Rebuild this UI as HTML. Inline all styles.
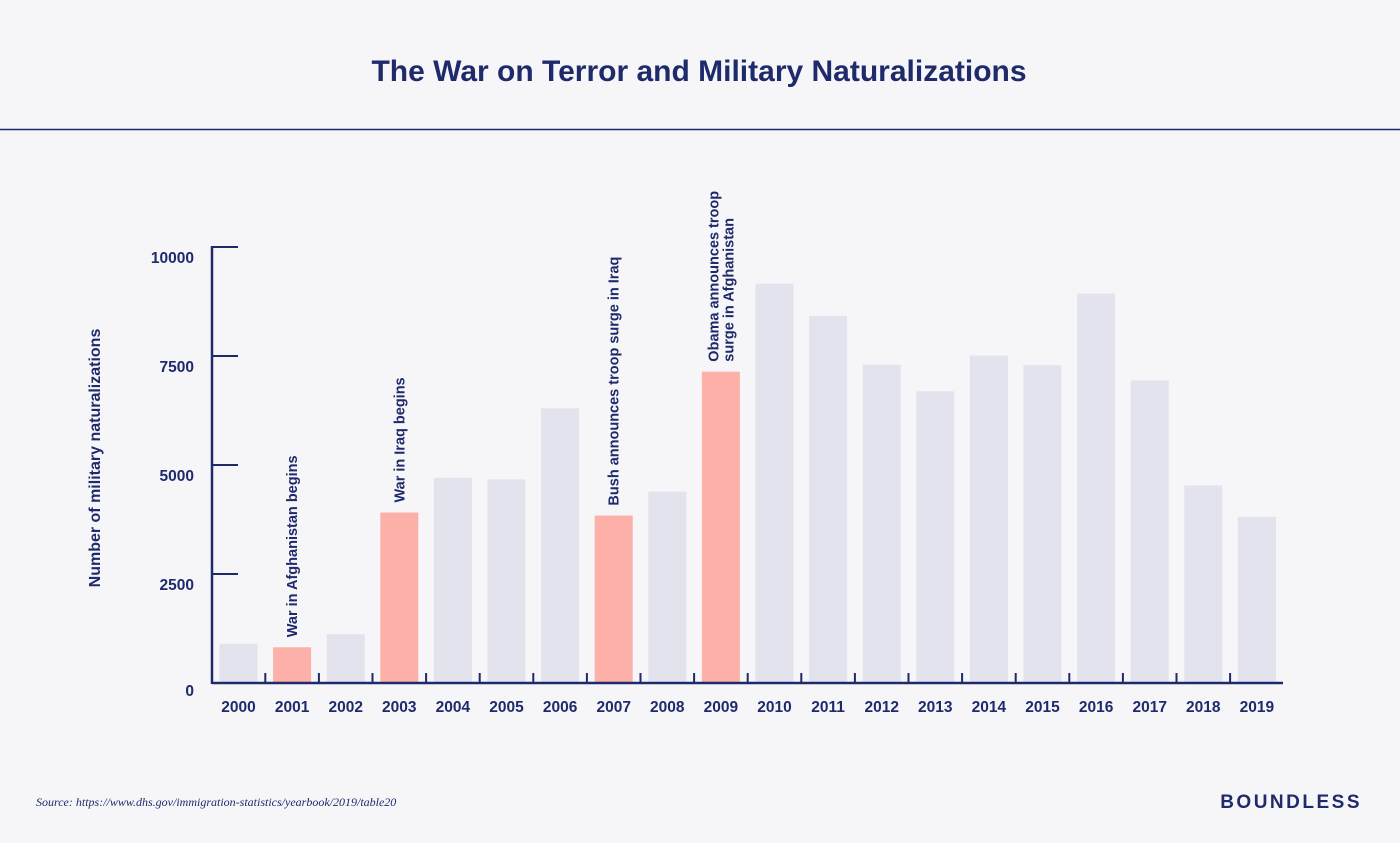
<!DOCTYPE html>
<html><head><meta charset="utf-8"><style>
body{margin:0;width:1400px;height:838px;background:#f6f6f9;font-family:"Liberation Sans",sans-serif;overflow:hidden}
</style></head><body>
<svg width="1400" height="838" xmlns="http://www.w3.org/2000/svg">
<text x="699" y="81" text-anchor="middle" font-size="30" font-weight="bold" fill="#1f2a6b">The War on Terror and Military Naturalizations</text>
<line x1="0" y1="129.5" x2="1400" y2="129.5" stroke="#1f2a6b" stroke-width="1.5"/>
<text transform="translate(100,458) rotate(-90)" text-anchor="middle" font-size="16" font-weight="bold" fill="#1f2a6b">Number of military naturalizations</text>
<g id="bars"></g><g id="axes"></g>
<text x="36" y="806" font-size="12" font-style="italic" font-family="Liberation Serif,serif" fill="#1f2a6b">Source: https://www.dhs.gov/immigration-statistics/yearbook/2019/table20</text>
<text x="1362" y="808" text-anchor="end" font-size="19" font-weight="bold" letter-spacing="2.5" fill="#1f2a6b">BOUNDLESS</text>
</svg>
<script>
const years=["2000","2001","2002","2003","2004","2005","2006","2007","2008","2009","2010","2011","2012","2013","2014","2015","2016","2017","2018","2019"];
const values=[900,820,1120,3910,4710,4670,6300,3840,4390,7140,9160,8420,7300,6690,7510,7290,8930,6940,4530,3810];
const highlighted=[false,true,false,true,false,false,false,true,false,true,false,false,false,false,false,false,false,false,false,false];
const annotations=[null,["War in Afghanistan begins"],null,["War in Iraq begins"],null,null,null,["Bush announces troop surge in Iraq"],null,["Obama announces troop","surge in Afghanistan"],null,null,null,null,null,null,null,null,null,null];
const yTicks=[0,2500,5000,7500,10000];
const NS="http://www.w3.org/2000/svg";
const x0=212,step=53.6,bw=38,yBase=683,yTop=247,yMax=10000;
const y=v=>yBase-(v/yMax)*(yBase-yTop);
const xc=i=>x0+26.5+i*step;
function mk(t,a,p){const e=document.createElementNS(NS,t);for(const k in a)e.setAttribute(k,a[k]);p.appendChild(e);return e;}
const bars=document.getElementById('bars'),axes=document.getElementById('axes');
const navy="#1f2a6b";
years.forEach((yr,i)=>{
  const r=mk('rect',{x:xc(i)-bw/2,y:y(values[i]),width:bw,height:yBase-y(values[i]),fill:highlighted[i]?"#fdb0a8":"#e3e3ee"},bars);
  
  
  const t=mk('text',{x:xc(i),y:712,'text-anchor':'middle','font-size':15.5,'font-weight':'bold',fill:navy},axes);
  t.textContent=yr;
  
  
  if(i>0){const tk=mk('line',{x1:xc(i)-step/2,x2:xc(i)-step/2,y1:yBase,y2:yBase-10,stroke:navy,'stroke-width':2},axes);
    
    }
  const an=annotations[i];
  if(an){const by=y(values[i])-10;
    an.forEach((line,j)=>{const off=(j-(an.length-1)/2)*15;
      const a=mk('text',{transform:`translate(${xc(i)+off+5},${by}) rotate(-90)`,'font-size':14.5,'font-weight':'bold',fill:navy},bars);
      a.textContent=line;
      
      });}
});
const xl=mk('line',{x1:x0,x2:1283,y1:yBase,y2:yBase,stroke:navy,'stroke-width':2.5},axes);


const yl=mk('line',{x1:x0,x2:x0,y1:yTop-1,y2:yBase+1,stroke:navy,'stroke-width':2.5},axes);


yTicks.forEach(v=>{
  if(v>0){const l=mk('line',{x1:x0,x2:x0+26,y1:y(v),y2:y(v),stroke:navy,'stroke-width':2},axes);
    
    }
  const t=mk('text',{x:194,y:y(v)+(v===0?13:16),'text-anchor':'end','font-size':15.5,'font-weight':'bold',fill:navy},axes);
  t.textContent=v;
  
  
});
</script>
</body></html>
